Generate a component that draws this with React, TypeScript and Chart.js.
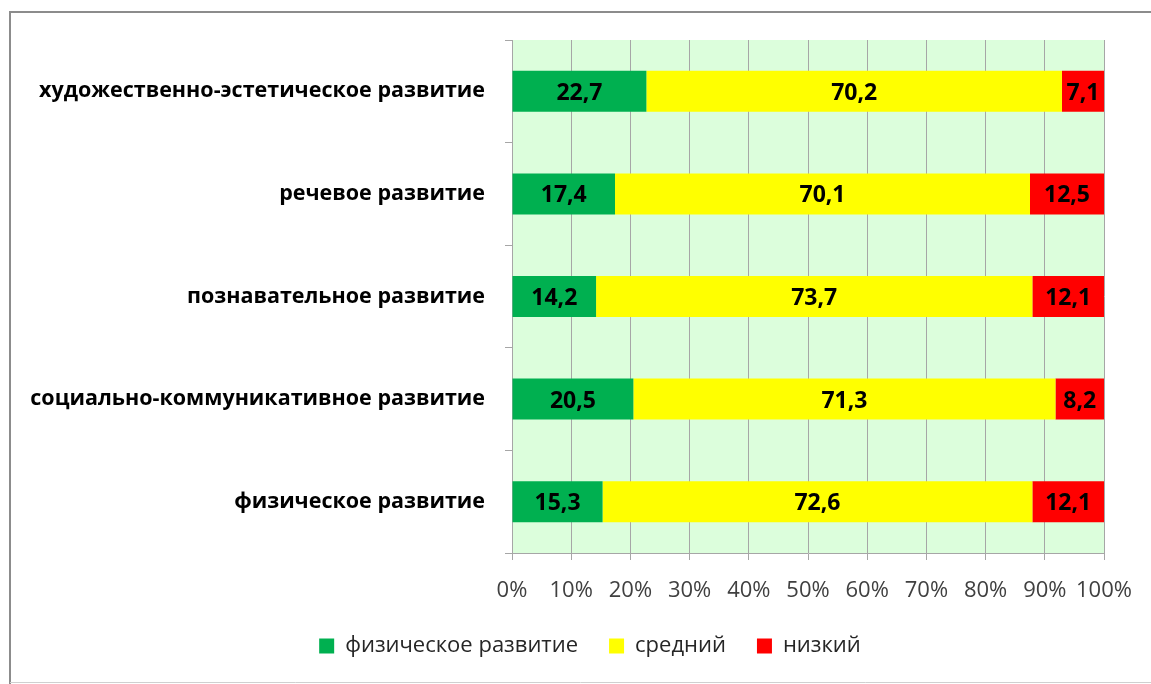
import React, { useEffect, useRef } from "react";
import { Chart, registerables } from "chart.js";

Chart.register(...registerables);

const categories: string[] = [
  "художественно-эстетическое развитие",
  "речевое развитие",
  "познавательное развитие",
  "социально-коммуникативное развитие",
  "физическое развитие",
];

const seriesNames: string[] = ["физическое развитие", "средний", "низкий"];
const seriesColors: string[] = ["#00B050", "#FFFF00", "#FF0000"];

const greenValues: number[] = [22.7, 17.4, 14.2, 20.5, 15.3];
const yellowValues: number[] = [70.2, 70.1, 73.7, 71.3, 72.6];
const redValues: number[] = [7.1, 12.5, 12.1, 8.2, 12.1];

const xTicks: number[] = [0, 10, 20, 30, 40, 50, 60, 70, 80, 90, 100];

const FONT = "'Open Sans', 'Noto Sans', 'DejaVu Sans', sans-serif";
const LEGEND_SHIFT = 38;

const decorPlugin = {
  id: "decor",
  afterLayout(chart: any) {
    const lg = chart.legend;
    if (lg) {
      lg.left += LEGEND_SHIFT;
      lg.right += LEGEND_SHIFT;
    }
  },
  beforeDraw(chart: any) {
    const { ctx, chartArea } = chart;
    ctx.save();
    // plot background
    ctx.fillStyle = "#DCFEDC";
    ctx.fillRect(chartArea.left, chartArea.top, chartArea.right - chartArea.left, chartArea.bottom - chartArea.top);
    // outer frame
    ctx.strokeStyle = "#8C8C8C";
    ctx.lineWidth = 2;
    ctx.beginPath();
    ctx.moveTo(10, 684);
    ctx.lineTo(10, 12);
    ctx.lineTo(1151, 12);
    ctx.stroke();
    ctx.strokeStyle = "#D0D0D0";
    ctx.lineWidth = 1;
    ctx.beginPath();
    ctx.moveTo(10, 682.5);
    ctx.lineTo(1151, 682.5);
    ctx.stroke();
    ctx.restore();
  },
};

const dataLabelPlugin = {
  id: "dataLabels",
  afterDatasetsDraw(chart: any) {
    const { ctx } = chart;
    ctx.save();
    ctx.font = `bold 23px ${FONT}`;
    ctx.fillStyle = "#000000";
    ctx.textAlign = "center";
    ctx.textBaseline = "middle";
    chart.data.datasets.forEach((ds: any, di: number) => {
      const meta = chart.getDatasetMeta(di);
      meta.data.forEach((el: any, i: number) => {
        const v = ds.data[i];
        const cx = (el.x + el.base) / 2;
        ctx.fillText(String(v).replace(".", ","), cx, el.y + 2);
      });
    });
    ctx.restore();
  },
};

export default function App() {
  const canvasRef = useRef<HTMLCanvasElement | null>(null);

  useEffect(() => {
    document.body.style.margin = "0";
    const canvas = canvasRef.current;
    if (!canvas) return;
    const valueSets = [greenValues, yellowValues, redValues];
    const chart = new Chart(canvas, {
      type: "bar",
      data: {
        labels: categories,
        datasets: valueSets.map((vals, i) => ({
          label: seriesNames[i],
          data: vals,
          backgroundColor: seriesColors[i],
          borderWidth: 0,
          categoryPercentage: 1,
          barPercentage: 0.4,
        })),
      },
      options: {
        indexAxis: "y",
        animation: false,
        responsive: false,
        maintainAspectRatio: false,
        layout: { padding: { left: 0, right: 47, top: 40, bottom: 17 } },
        plugins: {
          legend: {
            position: "bottom",
            labels: {
              font: { family: FONT, size: 22 },
              color: "#262626",
              boxWidth: 15,
              boxHeight: 15,
              padding: 31,
            },
          },
          tooltip: { enabled: false },
        },
        scales: {
          x: {
            stacked: true,
            min: 0,
            max: 100,
            afterBuildTicks: (scale: any) => {
              scale.ticks = xTicks.map((v) => ({ value: v }));
            },
            afterFit: (scale: any) => {
              scale.height = 51;
            },
            ticks: {
              callback: (v: any) => `${v}%`,
              font: { family: FONT, size: 22 },
              color: "#404040",
              padding: 18,
              maxRotation: 0,
              autoSkip: false,
            },
            grid: {
              color: "#A6A6A6",
              tickLength: 7,
              lineWidth: 1,
            },
            border: { color: "#A6A6A6" },
          },
          y: {
            stacked: true,
            afterFit: (scale: any) => {
              scale.width = 512;
            },
            ticks: {
              font: { family: FONT, size: 21.5, weight: "bold" },
              color: "#000000",
              padding: 20,
            },
            grid: {
              offset: true,
              drawOnChartArea: false,
              tickLength: 7,
              color: "#A6A6A6",
            },
            border: { color: "#A6A6A6" },
          },
        },
      },
      plugins: [decorPlugin, dataLabelPlugin],
    } as any);
    return () => chart.destroy();
  }, []);

  return (
    <canvas
      ref={canvasRef}
      width={1151}
      height={684}
      style={{ display: "block", width: "1151px", height: "684px" }}
    />
  );
}
